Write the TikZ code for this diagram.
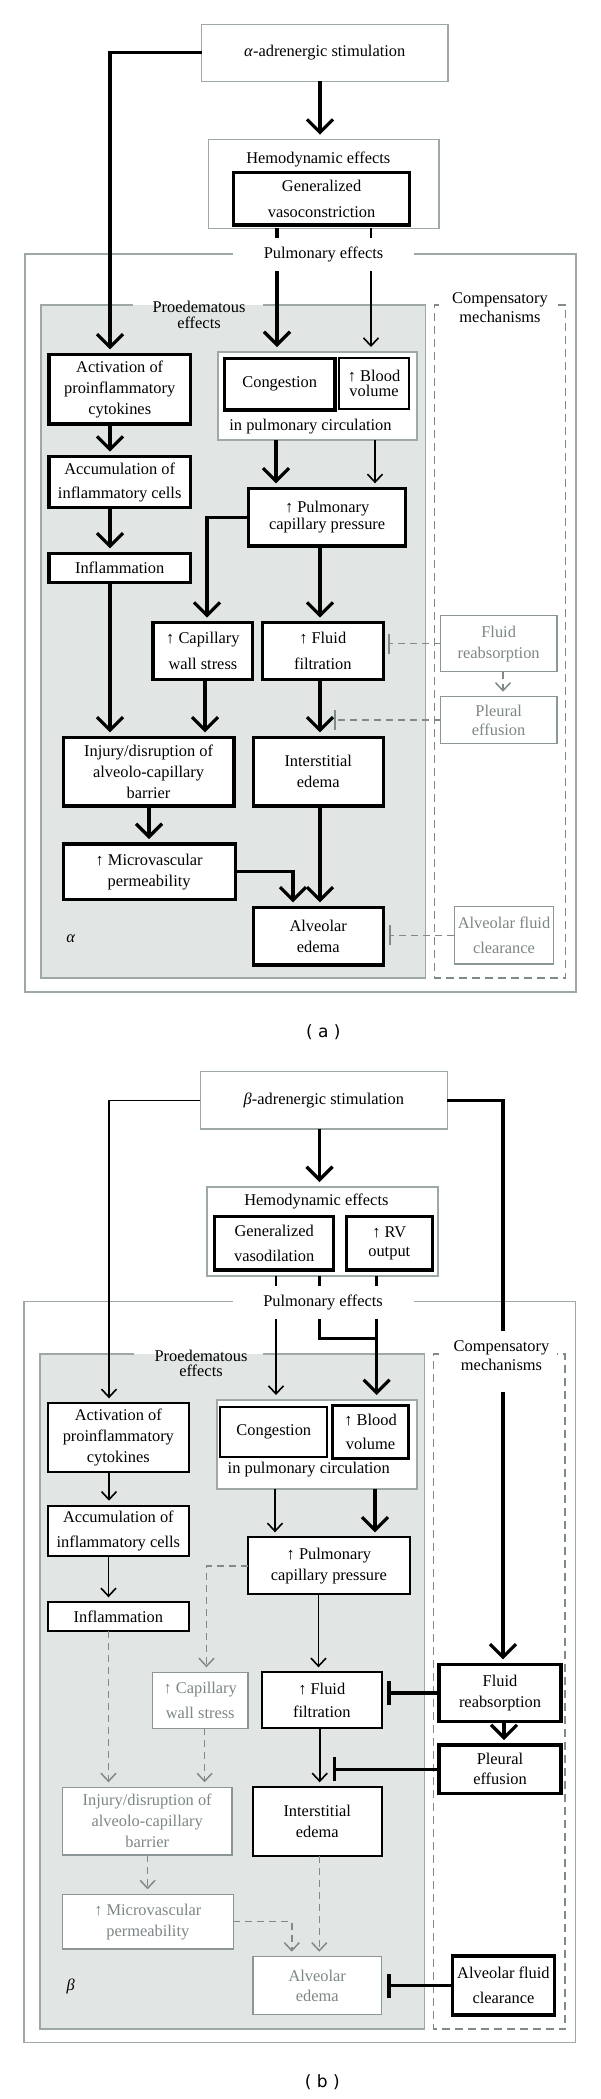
\documentclass[tikz,border=0pt]{standalone}
\usepackage{fontspec}
\setmainfont{Liberation Serif}
\newfontfamily\capfont{DejaVu Sans}
\usetikzlibrary{arrows.meta}
\definecolor{gline}{RGB}{158,168,166}
\definecolor{pfill}{RGB}{225,230,229}
\definecolor{gbord}{RGB}{140,150,150}
\definecolor{gtext}{RGB}{125,134,134}
\definecolor{cdash}{RGB}{128,138,138}
\newcommand\vcon[4]{\draw[#1] (#2.south -| #4,0) -- (#3.north -| #4,0);}
\begin{document}
\begin{tikzpicture}[x=1pt,y=-1pt,
  every node/.style={font=\fontsize{16.4}{21}\selectfont, align=center, inner sep=0pt, outer sep=0pt},
  wh/.style 2 args={minimum width=#1pt, minimum height=#2pt},
  bxk/.style={draw=black, line width=3.2pt, fill=white},
  bxm/.style={draw=black, line width=2pt, fill=white},
  bxg/.style={draw=gbord, line width=1.5pt, fill=white, text=gtext},
  cont/.style={draw=gline, line width=1.5pt, fill=white},
  plbl/.style={fill=white, minimum width=181pt, minimum height=33pt},
  captxt/.style={font=\capfont\fontsize{17}{20}\selectfont},
  thk/.style={draw=black, line width=3.2pt},
  thn/.style={draw=black, line width=1.6pt},
  gdash/.style={draw=cdash, line width=1.5pt, dash pattern=on 7pt off 5pt},
  arrT/.style={-{Straight Barb[length=13pt,width=26pt]}, shorten >=5pt},
  arrt/.style={-{Straight Barb[length=8pt,width=15pt]}, shorten >=5pt},
  barT/.style={-{Bar[width=24pt]}},
  barg/.style={-{Bar[width=20pt]}},
]
\useasboundingbox (0,0) rectangle (600,2099);

%%%%%%%%%%%%%%%%%%%% PANEL (a) %%%%%%%%%%%%%%%%%%%%
\node[cont, fill=none, wh={551}{738}] (outA) at (300.5,623) {};
\node[fill=pfill, wh={384.5}{673}] (proA) at (233.25,641.5) {};
\draw[draw=gline, line width=1.5pt] (proA.north west -| 133,0) -- (proA.north west) -- (proA.south west) -- (proA.south east) -- (proA.north east) -- (proA.north east -| 263,0);
\node[wh={131.4}{673}] (cmpA) at (500,641.5) {};
\draw[draw=cdash, line width=1.5pt, dash pattern=on 8pt off 5pt] (cmpA.north west -| 439,0) -- (cmpA.north west) -- (cmpA.south west) -- (cmpA.south east) -- (cmpA.north east) -- (cmpA.north east -| 557,0);
\node (proAl) at (199,314.7) {Proedematous\\[-5pt]effects};
\node (cmpAl) at (500,307.8) {Compensatory\\[-2pt]mechanisms};

\node[cont, wh={246.5}{57}] (alphaA) at (324.75,52.8) {\textit{α}-adrenergic stimulation};
\node[cont, wh={230.6}{88.6}] (hemoA) at (323.7,184) {};
\node (hemoAl) at (318.3,159.3) {Hemodynamic effects};
\node[bxk, wh={176}{52.3}] (gvc) at (321.6,198.85) {Generalized\\[4.6pt]vasoconstriction};

\node[bxk, wh={141.4}{69.7}] (actA) at (119.7,389.15) {Activation of\\proinflammatory\\cytokines};
\node[cont, wh={198.8}{88}] (circA) at (317.4,396) {};
\node[bxk, wh={110.5}{51.7}] (congA) at (279.75,384.15) {Congestion};
\node[bxm, wh={69.6}{50.7}] (bvA) at (374,383.65) {↑ Blood\\[-6pt]volume};
\node (circAl) at (310.5,426.7) {in pulmonary circulation};
\node[bxk, wh={141.4}{50.6}] (accA) at (119.7,482) {Accumulation of\\[3pt]inflammatory cells};
\node[bxk, wh={141.4}{29}] (inflA) at (119.7,567.8) {Inflammation};
\node[bxk, wh={157.1}{57.7}] (pcpA) at (327.15,517.15) {↑ Pulmonary\\[-4.3pt]capillary pressure};
\node[bxk, wh={99.8}{56.6}] (cwsA) at (202.9,651) {↑ Capillary\\[4.7pt]wall stress};
\node[bxk, wh={120.9}{56.6}] (ffA) at (322.75,651) {↑ Fluid\\[4.7pt]filtration};
\node[bxg, wh={116.3}{56}] (reabA) at (498.65,643.7) {Fluid\\reabsorption};
\node[bxg, wh={116.3}{46.6}] (pleuA) at (498.65,720) {Pleural\\[-2pt]effusion};
\node[bxk, wh={170.9}{68.7}] (injA) at (148.55,771.65) {Injury/disruption of\\alveolo-capillary\\barrier};
\node[bxk, wh={130}{68.7}] (intA) at (318.2,771.65) {Interstitial\\edema};
\node[bxk, wh={172.1}{55.3}] (micA) at (149.15,871.65) {↑ Microvascular\\permeability};
\node[bxk, wh={130}{57.7}] (alvA) at (318.2,936.15) {Alveolar\\edema};
\node[bxg, wh={99.4}{57.3}] (clrA) at (504,935.35) {Alveolar fluid\\[3.6pt]clearance};
\node (alab) at (70.7,938.3) {\textit{α}};

% connectors (a)
\draw[thk,arrT] (alphaA.west) -| (actA.north -| 110,0);
\vcon{thk,arrT}{alphaA}{hemoA}{320}
\vcon{thk,arrT}{hemoA}{circA}{277}
\vcon{thn,arrt}{hemoA}{circA}{371}
\vcon{thk,arrT}{actA}{accA}{110}
\vcon{thk,arrT}{accA}{inflA}{110}
\vcon{thk,arrT}{inflA}{injA}{110}
\vcon{thk,arrT}{circA}{pcpA}{276}
\vcon{thn,arrt}{circA}{pcpA}{375}
\draw[thk,arrT] (pcpA.west) -| (cwsA.north -| 207,0);
\vcon{thk,arrT}{pcpA}{ffA}{320}
\vcon{thk,arrT}{cwsA}{injA}{205}
\vcon{thk,arrT}{ffA}{intA}{320}
\vcon{thk,arrT}{injA}{micA}{149}
\draw[thk,arrT] (micA.east) -| (alvA.north -| 293,0);
\vcon{thk,arrT}{intA}{alvA}{320}
\coordinate (ffAbar) at (388,643.7);
\draw[gdash,barg] (reabA.west) -- (ffAbar);
\vcon{gdash,arrt}{reabA}{pleuA}{503}
\coordinate (intAbar) at (334,720);
\draw[gdash,barg] (pleuA.west) -- (intAbar);
\coordinate (alvAbar) at (389,935.35);
\draw[gdash,barg] (clrA.west) -- (alvAbar);
\node[plbl] (pulA) at (323.5,254.8) {Pulmonary effects};
\node[captxt] (capA) at (323.3,1031.7) {( a )};

%%%%%%%%%%%%%%%%%%%% PANEL (b) %%%%%%%%%%%%%%%%%%%%
\node[cont, fill=none, wh={551.5}{740.6}] (outB) at (299.75,1672) {};
\node[fill=pfill, wh={384.3}{675}] (proB) at (232.35,1691.5) {};
\draw[draw=gline, line width=1.5pt] (proB.north west -| 134,0) -- (proB.north west) -- (proB.south west) -- (proB.south east) -- (proB.north east) -- (proB.north east -| 263,0);
\node[wh={131.9}{675}] (cmpB) at (499.25,1691.5) {};
\draw[draw=cdash, line width=1.5pt, dash pattern=on 8pt off 5pt] (cmpB.north west -| 439,0) -- (cmpB.north west) -- (cmpB.south west) -- (cmpB.south east) -- (cmpB.north east) -- (cmpB.north east -| 557,0);
\node (proBl) at (201,1363.3) {Proedematous\\[-6.3pt]effects};
\node (cmpBl) at (501.5,1355.5) {Compensatory\\[-2pt]mechanisms};

\node[cont, wh={247}{57.3}] (betaB) at (323.9,1100.35) {\textit{β}-adrenergic stimulation};
\node[cont, wh={231}{89}] (hemoB) at (322.4,1231.5) {};
\node (hemoBl) at (316.4,1201.7) {Hemodynamic effects};
\node[bxk, wh={119.3}{53.3}] (gvd) at (274.15,1243.35) {Generalized\\[4pt]vasodilation};
\node[bxk, wh={85.6}{53.3}] (rvo) at (389.3,1243.35) {↑ RV\\[-1.7pt]output};

\node[bxm, wh={141.1}{68.4}] (actB) at (118.35,1437.5) {Activation of\\proinflammatory\\cytokines};
\node[cont, wh={200}{89}] (circB) at (316.8,1444.5) {};
\node[bxm, wh={107}{50.6}] (congB) at (273.8,1432) {Congestion};
\node[bxk, wh={75.7}{52.6}] (bvB) at (370.55,1432) {↑ Blood\\[2.3pt]volume};
\node (circBl) at (308.8,1469.3) {in pulmonary circulation};
\node[bxm, wh={141.1}{50}] (accB) at (118.35,1530.7) {Accumulation of\\[4pt]inflammatory cells};
\node[bxm, wh={141.1}{28.7}] (inflB) at (118.35,1616.65) {Inflammation};
\node[bxm, wh={162.1}{57}] (pcpB) at (328.85,1565.8) {↑ Pulmonary\\capillary pressure};
\node[bxg, wh={95.2}{56}] (cwsB) at (200.2,1700.3) {↑ Capillary\\[4.7pt]wall stress};
\node[bxm, wh={119.6}{56}] (ffB) at (321.8,1700.3) {↑ Fluid\\[2.4pt]filtration};
\node[bxk, wh={122}{57.4}] (reabB) at (500,1693) {Fluid\\reabsorption};
\node[bxk, wh={122}{48.3}] (pleuB) at (500,1769.15) {Pleural\\[-1pt]effusion};
\node[bxg, wh={169.8}{67.7}] (injB) at (147.2,1821.15) {Injury/disruption of\\alveolo-capillary\\barrier};
\node[bxm, wh={128.8}{68.4}] (intB) at (317.2,1821.5) {Interstitial\\edema};
\node[bxg, wh={171}{54.7}] (micB) at (147.8,1921.65) {↑ Microvascular\\permeability};
\node[bxg, wh={128.8}{57.6}] (alvB) at (317.2,1985.5) {Alveolar\\[-1pt]edema};
\node[bxk, wh={101.3}{59}] (clrB) at (503.45,1985.5) {Alveolar fluid\\[4pt]clearance};
\node (blab) at (70.7,1986.7) {\textit{β}};

% connectors (b)
\draw[thn,arrt] (betaB.west) -| (actB.north -| 109,0);
\coordinate (cbTop) at (503,1330.7);
\coordinate (cbBot) at (503,1391.7);
\draw[thk] (betaB.east) -| (cbTop);
\draw[thk,arrT] (cbBot) -- (reabB.north -| 503,0);
\vcon{thk,arrT}{betaB}{hemoB}{319.5}
\vcon{thn,arrt}{hemoB}{circB}{276}
\coordinate (mrg) at (376.7,1338.3);
\draw[thk] (hemoB.south -| 319.7,0) |- (mrg);
\vcon{thk,arrT}{hemoB}{circB}{376.7}
\vcon{thn,arrt}{actB}{accB}{109}
\vcon{thn,arrt}{accB}{inflB}{108.5}
\vcon{gdash,arrt}{inflB}{injB}{108.5}
\vcon{thn,arrt}{circB}{pcpB}{275}
\vcon{thk,arrT}{circB}{pcpB}{375}
\draw[gdash,arrt] (pcpB.west) -| (cwsB.north -| 206.5,0);
\vcon{thn,arrt}{pcpB}{ffB}{318.5}
\coordinate (ffBbar) at (387.4,1693);
\draw[thk,barT] (reabB.west) -- (ffBbar);
\vcon{thk,arrT}{reabB}{pleuB}{504}
\coordinate (intBbar) at (332.7,1769.15);
\draw[thk,barT] (pleuB.west) -- (intBbar);
\vcon{thn,arrt}{ffB}{intB}{319.7}
\vcon{gdash,arrt}{cwsB}{injB}{204.6}
\vcon{gdash,arrt}{injB}{micB}{147.6}
\draw[gdash,arrt] (micB.east) -| (alvB.north -| 291.8,0);
\vcon{gdash,arrt}{intB}{alvB}{319.3}
\coordinate (alvBbar) at (387.4,1985.5);
\draw[thk,barT] (clrB.west) -- (alvBbar);
\node[plbl] (pulB) at (323,1302.8) {Pulmonary effects};
\node[captxt] (capB) at (322.4,2082.3) {( b )};
\end{tikzpicture}
\end{document}
